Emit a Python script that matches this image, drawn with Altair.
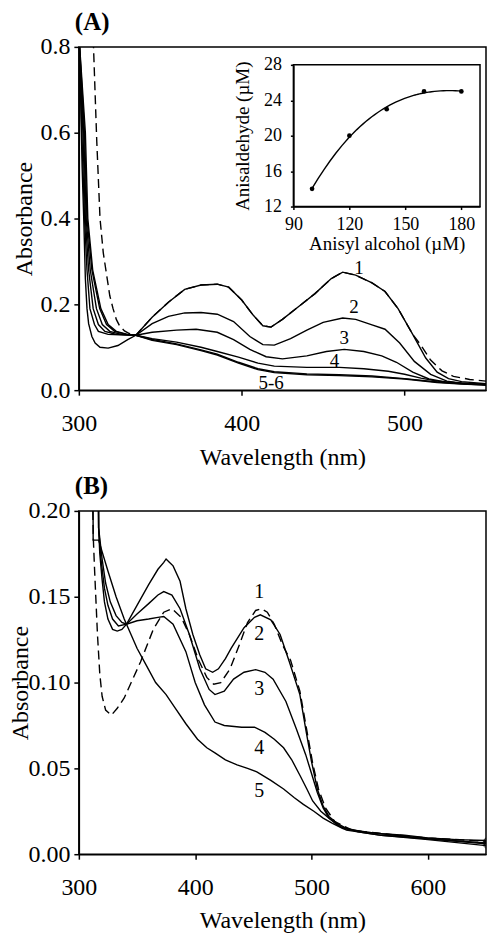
import altair as alt
import pandas as pd

FONT = "Liberation Serif"

# ---------------- Panel A : spectra ----------------
a1_wl = [300, 301, 302, 303, 304, 305, 306, 308, 310, 313, 318, 324, 330, 335, 345, 355, 365, 375, 385, 392, 400, 407, 413, 418, 425, 435, 445, 455, 462, 470, 480, 488, 496, 505, 513, 520, 527, 535, 550]
a1_ab = [0.83, 0.7, 0.52, 0.4, 0.26, 0.19, 0.155, 0.125, 0.11, 0.1, 0.098, 0.104, 0.118, 0.128, 0.17, 0.205, 0.235, 0.245, 0.247, 0.24, 0.21, 0.175, 0.15, 0.147, 0.165, 0.195, 0.225, 0.26, 0.275, 0.268, 0.25, 0.23, 0.19, 0.13, 0.075, 0.042, 0.027, 0.02, 0.015]

a2_wl = [300, 302, 303.5, 305, 306.8, 309.6, 312, 318, 325, 335, 345, 355, 365, 375, 385, 395, 405, 413, 420, 430, 440, 450, 462, 470, 480, 488, 497, 506, 516, 526, 535, 550]
a2_ab = [0.83, 0.58, 0.4, 0.28, 0.19, 0.153, 0.137, 0.13, 0.129, 0.128, 0.155, 0.172, 0.18, 0.181, 0.177, 0.16, 0.125, 0.106, 0.105, 0.12, 0.14, 0.158, 0.168, 0.165, 0.152, 0.142, 0.11, 0.067, 0.037, 0.021, 0.016, 0.013]

a3_wl = [300, 302.5, 304, 306, 308.8, 312, 316, 322, 335, 345, 360, 372, 385, 395, 405, 415, 425, 440, 452, 463, 475, 486, 495, 505, 515, 525, 540, 550]
a3_ab = [0.83, 0.6, 0.4, 0.28, 0.19, 0.153, 0.137, 0.131, 0.128, 0.135, 0.14, 0.142, 0.135, 0.118, 0.095, 0.078, 0.073, 0.08, 0.09, 0.095, 0.09, 0.08, 0.065, 0.042, 0.026, 0.019, 0.015, 0.013]

a4_wl = [300, 303, 304.5, 307, 310.8, 314.4, 319, 326, 335, 345, 360, 375, 385, 398, 410, 420, 440, 460, 475, 490, 500, 510, 520, 535, 550]
a4_ab = [0.83, 0.6, 0.4, 0.28, 0.19, 0.153, 0.137, 0.13, 0.128, 0.12, 0.112, 0.1, 0.09, 0.077, 0.063, 0.056, 0.053, 0.053, 0.05, 0.044, 0.037, 0.028, 0.021, 0.016, 0.013]

a5_wl = [300, 303.5, 305, 308, 312.8, 317, 322, 329, 335, 345, 360, 375, 385, 398, 410, 420, 440, 460, 480, 500, 520, 535, 550]
a5_ab = [0.83, 0.6, 0.4, 0.28, 0.19, 0.153, 0.137, 0.13, 0.128, 0.118, 0.108, 0.094, 0.084, 0.065, 0.05, 0.043, 0.038, 0.036, 0.033, 0.027, 0.019, 0.015, 0.012]

a6_wl = [300, 304, 305.5, 308.5, 313.5, 318, 323, 330, 335, 345, 360, 375, 385, 398, 410, 420, 440, 460, 480, 500, 520, 535, 550]
a6_ab = [0.83, 0.6, 0.4, 0.28, 0.19, 0.153, 0.137, 0.13, 0.128, 0.116, 0.106, 0.092, 0.082, 0.063, 0.048, 0.041, 0.036, 0.034, 0.031, 0.026, 0.018, 0.014, 0.012]

ad_wl = [308, 309, 311, 313, 315, 317, 319, 321, 323, 325, 328, 331, 335, 345, 355, 365, 375, 385, 392, 400, 407, 413, 418, 425, 435, 445, 455, 462, 470, 480, 488, 496, 505, 510, 516, 523, 530, 540, 550]
ad_ab = [0.85, 0.8, 0.58, 0.4, 0.32, 0.27, 0.22, 0.19, 0.165, 0.15, 0.138, 0.132, 0.128, 0.17, 0.205, 0.235, 0.245, 0.247, 0.24, 0.21, 0.175, 0.15, 0.147, 0.165, 0.195, 0.225, 0.26, 0.275, 0.268, 0.25, 0.23, 0.19, 0.13, 0.105, 0.07, 0.045, 0.032, 0.025, 0.021]

labA_text = ["1", "2", "3", "4", "5-6"]
labA_wl = [472, 469, 463, 457, 418]
labA_ab = [0.284, 0.193, 0.121, 0.067, 0.016]

# ---------------- Panel A : inset ----------------
ins_alcohol = [100, 120, 140, 160, 180]
ins_aldehyde = [14, 20, 23, 25, 25]

# ---------------- Panel B : spectra ----------------
b1_wl = [312, 312.5, 313.5, 316, 318, 320, 323, 328, 333, 339, 345, 353, 364, 373, 380, 388, 395, 403, 410, 416, 422, 430, 438, 445, 452, 457, 462, 468, 475, 482, 490, 496, 501, 506, 512, 520, 535, 560, 600, 650]
b1_ab = [0.2, 0.183, 0.166, 0.128, 0.105, 0.092, 0.084, 0.081, 0.085, 0.091, 0.1, 0.112, 0.131, 0.141, 0.143, 0.138, 0.128, 0.113, 0.103, 0.099, 0.1, 0.108, 0.122, 0.135, 0.142, 0.143, 0.141, 0.134, 0.122, 0.113, 0.095, 0.072, 0.053, 0.038, 0.027, 0.019, 0.014, 0.012, 0.0095, 0.0075]

b2_wl = [316.5, 317, 318, 320, 322, 325, 329, 333, 337, 341, 350, 360, 368, 373, 375, 378, 381, 387, 392, 398, 404, 409, 415, 420, 426, 431, 442, 451, 456, 465, 473, 481, 490, 495, 500, 505, 510, 515, 522, 530, 545, 560, 580, 600, 625, 650]
b2_ab = [0.25, 0.19, 0.175, 0.16, 0.147, 0.137, 0.131, 0.13, 0.131, 0.134, 0.145, 0.157, 0.166, 0.17, 0.172, 0.17, 0.168, 0.159, 0.143, 0.128, 0.116, 0.108, 0.106, 0.108, 0.114, 0.12, 0.132, 0.138, 0.1395, 0.1365, 0.128, 0.112, 0.093, 0.073, 0.054, 0.038, 0.028, 0.022, 0.018, 0.015, 0.013, 0.012, 0.011, 0.0095, 0.0085, 0.008]

b3_wl = [316.5, 317, 319, 322, 325, 329, 334, 341, 350, 360, 368, 373, 380, 387, 395, 404, 412, 417, 425, 433, 442, 452, 460, 467, 478, 487, 495, 500, 505, 510, 515, 522, 530, 560, 600, 650]
b3_ab = [0.25, 0.19, 0.172, 0.155, 0.145, 0.137, 0.133, 0.134, 0.14, 0.146, 0.151, 0.153, 0.151, 0.143, 0.128, 0.108, 0.096, 0.093, 0.095, 0.102, 0.106, 0.1075, 0.106, 0.102, 0.089, 0.073, 0.058, 0.047, 0.036, 0.027, 0.021, 0.017, 0.014, 0.011, 0.009, 0.0065]

b4_wl = [316.5, 317, 320, 323, 327, 332, 337, 341, 350, 360, 368, 373, 381, 392, 400, 408, 417, 425, 440, 451, 460, 468, 476, 483, 490, 496, 501, 508, 515, 525, 540, 560, 600, 650]
b4_ab = [0.25, 0.19, 0.172, 0.158, 0.147, 0.139, 0.135, 0.134, 0.136, 0.137, 0.138, 0.1385, 0.134, 0.118, 0.1, 0.087, 0.077, 0.075, 0.074, 0.074, 0.071, 0.067, 0.062, 0.055, 0.046, 0.038, 0.031, 0.025, 0.021, 0.016, 0.013, 0.011, 0.0085, 0.005]

b5_wl = [312, 312.3, 317, 325, 332, 339, 350, 358, 366, 375, 383, 392, 402, 410, 417, 426, 436, 445, 453, 465, 476, 485, 493, 502, 510, 518, 527, 545, 566, 600, 650]
b5_ab = [0.25, 0.183, 0.183, 0.165, 0.15, 0.137, 0.12, 0.11, 0.1, 0.093, 0.085, 0.076, 0.067, 0.062, 0.059, 0.055, 0.052, 0.05, 0.048, 0.043, 0.038, 0.033, 0.029, 0.025, 0.021, 0.018, 0.015, 0.013, 0.0115, 0.009, 0.006]

labB_text = ["1", "2", "3", "4", "5"]
labB_wl = [455, 455, 455, 455, 455]
labB_ab = [0.153, 0.128, 0.0965, 0.062, 0.0366]


def frame(curves):
    rows = []
    for name, wl, ab in curves:
        for i, (w, a) in enumerate(zip(wl, ab)):
            rows.append({"curve": name, "wl": w, "abs": a, "i": i})
    return pd.DataFrame(rows)


dfA_solid = frame([("1", a1_wl, a1_ab), ("2", a2_wl, a2_ab), ("3", a3_wl, a3_ab),
                   ("4", a4_wl, a4_ab), ("5", a5_wl, a5_ab), ("6", a6_wl, a6_ab)])
dfA_dash = frame([("d", ad_wl, ad_ab)])
dfA_lab = pd.DataFrame({"wl": labA_wl, "abs": labA_ab, "t": labA_text})
df_ins = pd.DataFrame({"aa": ins_alcohol, "ad": ins_aldehyde})
df_box = pd.DataFrame({"aa": [90], "aa2": [190], "ad": [12], "ad2": [28]})

dfB_solid = frame([("2", b2_wl, b2_ab), ("3", b3_wl, b3_ab), ("4", b4_wl, b4_ab), ("5", b5_wl, b5_ab)])
dfB_dash = frame([("1", b1_wl, b1_ab)])
dfB_lab = pd.DataFrame({"wl": labB_wl, "abs": labB_ab, "t": labB_text})
dfB_end = pd.DataFrame({"wl": [b1_wl[-1], b2_wl[-1], b3_wl[-1], b4_wl[-1], b5_wl[-1]],
                        "abs": [b1_ab[-1], b2_ab[-1], b3_ab[-1], b4_ab[-1], b5_ab[-1]]})

LW = 1.4
W = 408
H = 344

def x_axis(vals, title_y):
    return alt.Axis(values=vals, title="Wavelength (nm)", tickSize=5, labelPadding=16,
                    labelFont=FONT, titleFont=FONT, labelFontSize=24, titleFontSize=24,
                    titleY=title_y, titleBaseline="alphabetic", labelFlush=False)

def y_axis(vals, fmt, title_x):
    return alt.Axis(values=vals, format=fmt, title="Absorbance", tickSize=5, labelPadding=4,
                    labelFont=FONT, titleFont=FONT, labelFontSize=24, titleFontSize=24,
                    titleX=title_x, titleBaseline="alphabetic", titleAngle=270, labelFlush=False)

def panel_title(txt):
    return alt.TitleParams(txt, anchor="start", frame="group", fontSize=25, font=FONT,
                           fontWeight="bold", offset=0, dx=-4, color="black")

# ---------- Panel A ----------
sxA = alt.Scale(domain=[300, 550], nice=False)
syA = alt.Scale(domain=[0, 0.8], nice=False)
xA = alt.X("wl:Q", scale=sxA, axis=x_axis([300, 400, 500], 74))
yA = alt.Y("abs:Q", scale=syA, axis=y_axis([0, 0.2, 0.4, 0.6, 0.8], ".1f", -47))

solidA = alt.Chart(dfA_solid).mark_line(color="black", strokeWidth=LW, clip=True).encode(
    x=xA, y=yA, detail="curve:N", order="i:Q")
dashA = alt.Chart(dfA_dash).mark_line(color="black", strokeWidth=LW, strokeDash=[9, 5], clip=True).encode(
    x=xA, y=yA, order="i:Q")
labA = alt.Chart(dfA_lab).mark_text(font=FONT, fontSize=19, color="black").encode(x=xA, y=yA, text="t:N")
mainA = alt.layer(solidA, dashA, labA)

# inset placed by the pixel range of its own scales
sxi = alt.Scale(domain=[90, 190], range=[215, 402], nice=False, zero=False)
syi = alt.Scale(domain=[12, 28], range=[160, 18], nice=False, zero=False)
xi = alt.X("aa:Q", scale=sxi, axis=alt.Axis(orient="bottom", offset=-(H - 160), values=[90, 120, 150, 180],
                                             title="Anisyl alcohol (µM)", tickSize=3, labelPadding=6,
                                             labelFont=FONT, titleFont=FONT, labelFlush=False,
                                             labelFontSize=18, titleFontSize=19, titleY=43,
                                             titleBaseline="alphabetic", zindex=1))
yi = alt.Y("ad:Q", scale=syi, axis=alt.Axis(orient="left", offset=-215, values=[12, 16, 20, 24, 28],
                                             title="Anisaldehyde (µM)", tickSize=3, labelPadding=9,
                                             labelFont=FONT, titleFont=FONT, labelFlush=False,
                                             labelFontSize=18, titleFontSize=19, titleX=-45,
                                             titleBaseline="alphabetic", titleAngle=270, zindex=1))
box = alt.Chart(df_box).mark_rect(fill="white", stroke="black", strokeWidth=1.5).encode(
    x=xi, x2="aa2:Q", y=yi, y2="ad2:Q")
fit = alt.Chart(df_ins).transform_regression("aa", "ad", method="poly", order=3, extent=[100, 180]).mark_line(
    color="black", strokeWidth=LW).encode(x=xi, y=yi)
pts = alt.Chart(df_ins).mark_circle(color="black", size=22, opacity=1).encode(x=xi, y=yi)
inset = alt.layer(box, fit, pts)

chartA = alt.layer(mainA, inset).resolve_scale(x="independent", y="independent").properties(
    width=W, height=H, title=panel_title("(A)"))

# ---------- Panel B ----------
sxB = alt.Scale(domain=[300, 650], nice=False)
syB = alt.Scale(domain=[0, 0.2], nice=False)
xB = alt.X("wl:Q", scale=sxB, axis=x_axis([300, 400, 500, 600], 73))
yB = alt.Y("abs:Q", scale=syB, axis=y_axis([0, 0.05, 0.1, 0.15, 0.2], ".2f", -51))

solidB = alt.Chart(dfB_solid).mark_line(color="black", strokeWidth=LW, clip=True).encode(
    x=xB, y=yB, detail="curve:N", order="i:Q")
dashB = alt.Chart(dfB_dash).mark_line(color="black", strokeWidth=LW, strokeDash=[9, 5], clip=True).encode(
    x=xB, y=yB, order="i:Q")
endB = alt.Chart(dfB_end).mark_point(shape="diamond", filled=False, color="black", size=30,
                                      strokeWidth=1, clip=True).encode(x=xB, y=yB)
labB = alt.Chart(dfB_lab).mark_text(font=FONT, fontSize=20, color="black").encode(x=xB, y=yB, text="t:N")

chartB = alt.layer(solidB, dashB, endB, labB).properties(width=W, height=H, title=panel_title("(B)"))

chart = alt.vconcat(chartA, chartB, spacing=3).properties(
    padding={"left": 0, "top": 0, "right": 0, "bottom": 0}
).configure(font=FONT, background="white").configure_view(
    stroke="black", strokeWidth=1.5
).configure_axis(
    labelFont=FONT, titleFont=FONT, labelColor="black", titleColor="black",
    domainColor="black", tickColor="black", domainWidth=1.5, tickWidth=1.5,
    titleFontWeight="normal", grid=False
).configure_text(font=FONT)

chart.save("out.html", embed_options={"renderer": "svg", "actions": False})
